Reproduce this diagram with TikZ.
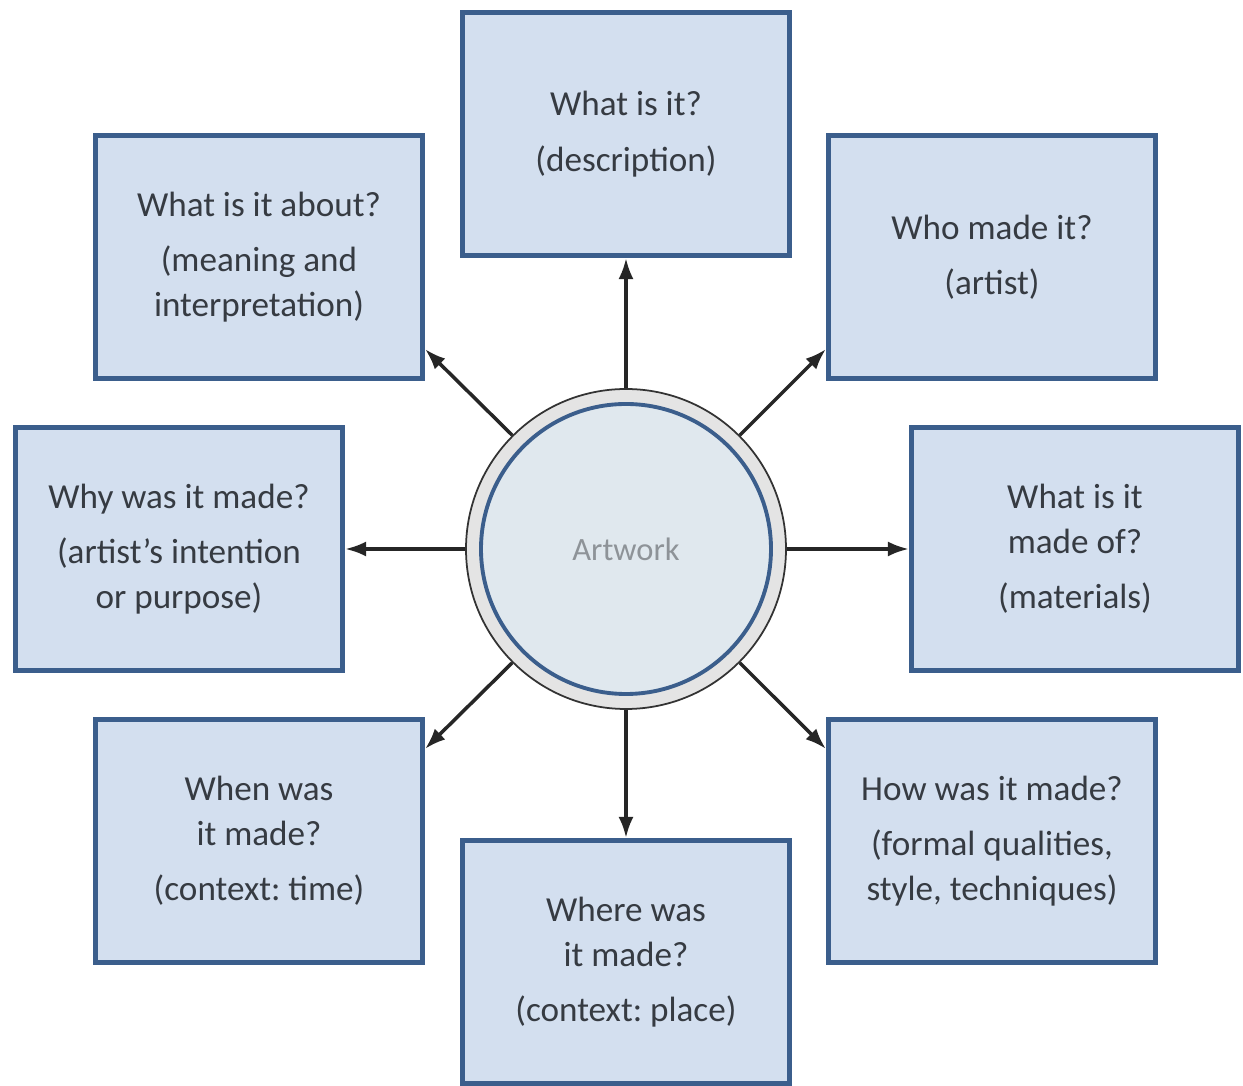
\documentclass[tikz,border=0pt]{standalone}
\usepackage{fontspec}
\setmainfont{Carlito}
\frenchspacing
\usetikzlibrary{positioning, arrows.meta, shadows}

\definecolor{boxblue}{HTML}{3B5E8C}
\definecolor{boxfill}{HTML}{D3DFEF}
\definecolor{corefill}{HTML}{E0E8EE}
\definecolor{ringgray}{HTML}{E4E4E4}
\definecolor{txtgray}{HTML}{363B42}
\definecolor{arttxt}{HTML}{8E9398}

\tikzset{
    qbox/.style={draw=boxblue, line width=2.6pt, fill=boxfill,
        minimum width=6.55cm, minimum height=4.87cm, align=center,
        text=txtgray, font=\fontsize{20}{25.5}\selectfont,
        drop shadow={shadow xshift=0.8pt, shadow yshift=-0.8pt, fill=black!75, opacity=1}},
    arr/.style={-{Latex[length=0.42cm, width=0.3cm]}, line width=2pt, color=black!85}
}

\begin{document}
\begin{tikzpicture}
    \useasboundingbox (-12.52,-10.74) rectangle (12.34,10.98);

    % centre
    \node [circle, draw=black!80, line width=1pt, fill=ringgray, minimum size=6.4cm] (art) at (0,0) {};
    \node [circle, draw=boxblue, line width=2.2pt, fill=corefill, minimum size=5.8cm,
           text=arttxt, font=\fontsize{18.5}{20}\selectfont] (core) at (art) {Artwork};

    % questions
    \node [qbox] (what)   at (0,8.3)        {What is it?\\[6pt](description)};
    \node [qbox] (about)  at (-7.34,5.84)   {What is it about?\\[6pt](meaning and\\interpretation)};
    \node [qbox] (who)    at (7.32,5.84)    {Who made it?\\[6pt](artist)};
    \node [qbox] (why)    at (-8.94,0)      {Why was it made?\\[6pt](artist’s intention\\or purpose)};
    \node [qbox] (madeof) at (8.98,0)       {What is it\\made of?\\[6pt](materials)};
    \node [qbox] (when)   at (-7.34,-5.84)  {When was\\it made?\\[6pt](context: time)};
    \node [qbox] (how)    at (7.32,-5.84)   {How was it made?\\[6pt](formal qualities,\\style, techniques)};
    \node [qbox] (where)  at (0,-8.26)      {Where was\\it made?\\[6pt](context: place)};

    \foreach \s/\t in {90/what.south, 45/who.-151, 0/madeof.west, -45/how.151,
                       -90/where.north, -135/when.29, 180/why.east, 135/about.-29}{%
        \draw [arr] (art.\s) -- (\t);
    }
\end{tikzpicture}
\end{document}
